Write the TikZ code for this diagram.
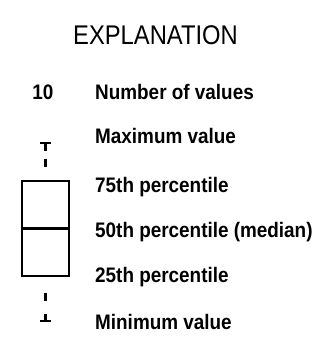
\documentclass[tikz,border=0pt]{standalone}
\usepackage{fontspec}
\setmainfont{Liberation Sans}
\newfontfamily\lblfont{Liberation Sans Bold}[FakeStretch=0.9]
\newfontfamily\ttlfont{Liberation Sans}[FakeStretch=0.88]
\usetikzlibrary{positioning}

\begin{document}
\begin{tikzpicture}[x=1pt,y=-1pt,
  lbl/.style={anchor=base west,font=\fontsize{21}{24}\lblfont,inner sep=0pt},
  bx/.style={draw,line width=2.8pt},
  wsk/.style={line width=2.5pt}]
\useasboundingbox (0,0) rectangle (328,339);
\node[anchor=base,font=\fontsize{27}{30}\ttlfont,inner sep=0pt] (title) at (155.5,45) {EXPLANATION};
\node[anchor=base,font=\fontsize{21}{24}\lblfont,inner sep=0pt] (n) at (43,100) {10};
\node[lbl] (nv) at (95,100) {Number of values};
\node[lbl] (mx) at (95,143) {Maximum value};
\node[lbl] (p75) at (95,192) {75th percentile};
\node[lbl] (p50) at (95,237) {50th percentile (median)};
\node[lbl] (p25) at (95,282) {25th percentile};
\node[lbl] (mn) at (95,329) {Minimum value};
% box
\node[bx,minimum width=47pt,minimum height=95pt,inner sep=0pt] (box) at (45.5,228.5) {};
\draw[line width=2.5pt] (box.west) -- (box.east);
% whiskers
\coordinate (tc) at (45.5,143);
\coordinate (bc) at (45.5,321);
\draw[wsk] ([xshift=-5.5pt]tc) -- ([xshift=5.5pt]tc);
\draw[wsk] (tc) -- ++(0,7.5);
\draw[wsk] ([yshift=13pt]box.north) -- ++(0,-8);
\draw[wsk] ([yshift=-16pt]box.south) -- ++(0,8);
\draw[wsk] ([xshift=-5.5pt]bc) -- ([xshift=5.5pt]bc);
\draw[wsk] (bc) -- ++(0,-7.5);
\end{tikzpicture}
\end{document}
